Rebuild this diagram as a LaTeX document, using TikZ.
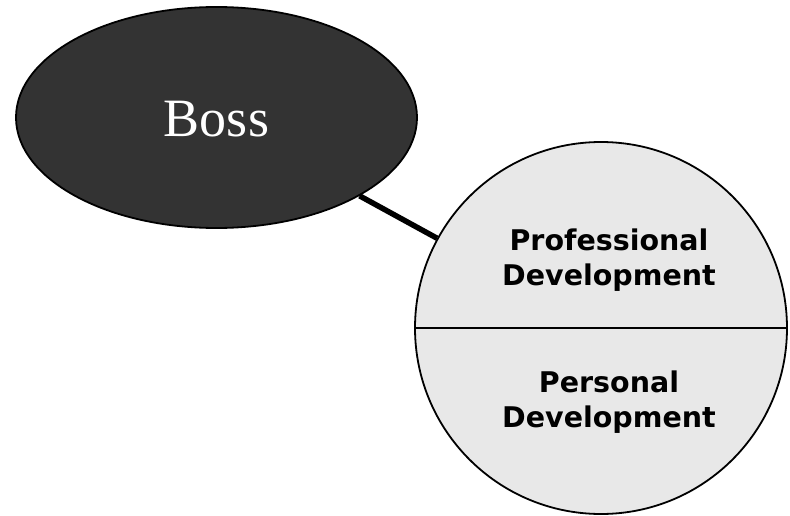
\documentclass[tikz,border=0pt]{standalone}
\usepackage{fontspec}
\setmainfont{Liberation Serif}
\newfontfamily\dvsans{DejaVu Sans}
\usetikzlibrary{shapes.geometric}
\definecolor{bossfill}{HTML}{333333}
\definecolor{circfill}{HTML}{E8E8E8}
\tikzset{
  bossnode/.style={ellipse, draw=black, line width=1.8pt, fill=bossfill, text=white,
    minimum width=401pt, minimum height=221pt, inner sep=0pt},
  devcircle/.style={circle, draw=black, line width=1.8pt, fill=circfill, minimum size=372pt, inner sep=0pt},
  devtext/.style={align=center, inner sep=0pt, font=\dvsans\bfseries\fontsize{28.5}{35}\selectfont},
  divider/.style={line width=1.8pt},
  link/.style={line width=5.5pt}
}
\begin{document}
\begin{tikzpicture}[x=1pt,y=-1pt]
\useasboundingbox (0,0) rectangle (790,516);
\node[devcircle] (dev) at (601,328) {};
\node[bossnode] (boss) at (216.5,117.5) {};
\node[anchor=base, text=white, font=\fontsize{54}{60}\selectfont, inner sep=0pt] (bosslabel) at (216.5,137) {Boss};
\draw[link] (boss) -- (dev);
\draw[divider] (dev.west) -- (dev.east);
\node[devtext] (prof) at (609,260) {Professional\\Development};
\node[devtext] (pers) at (609,402) {Personal\\Development};
\end{tikzpicture}
\end{document}
